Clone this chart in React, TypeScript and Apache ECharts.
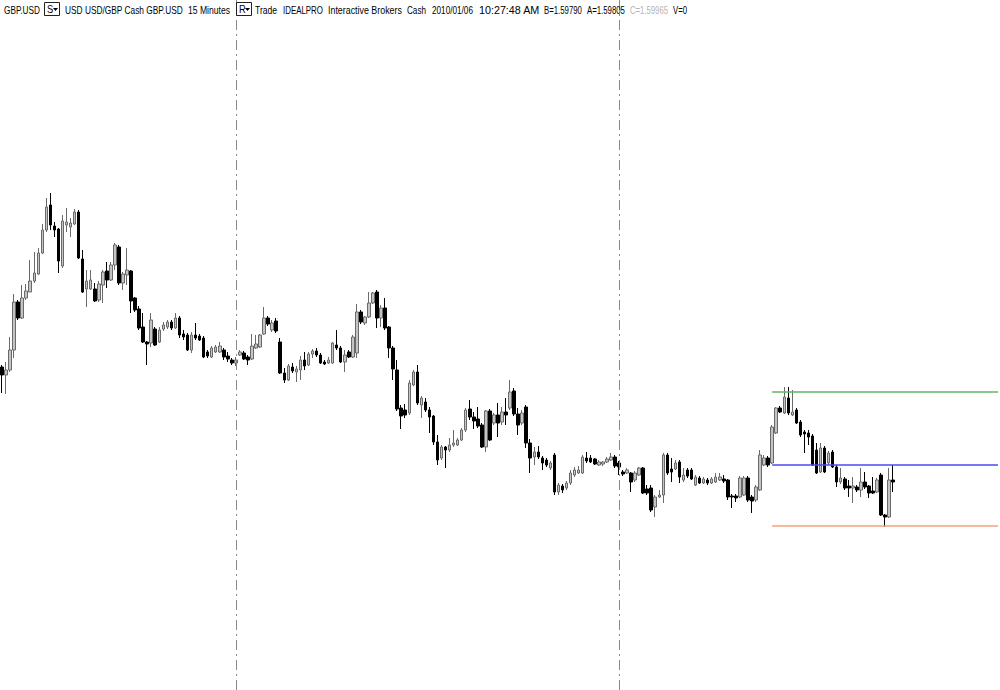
import React, { useEffect, useRef } from "react";
import * as echarts from "echarts";

// 15-minute GBP.USD bars (open, close, low, high)
const opens = [
  1.60365, 1.60325, 1.6035, 1.6045, 1.6069, 1.6061, 1.6071, 1.6074, 1.60795, 1.6083,
  1.60935, 1.6105, 1.61175, 1.6107, 1.61055, 1.6087, 1.61075, 1.61065, 1.6108, 1.6114,
  1.60905, 1.60755, 1.60755, 1.60755, 1.607, 1.60775, 1.60845, 1.608, 1.60875, 1.60965,
  1.60785, 1.60825, 1.60845, 1.6071, 1.60655, 1.60565, 1.6049, 1.60485, 1.60555, 1.6049,
  1.60555, 1.60565, 1.6059, 1.6056, 1.6061, 1.6053, 1.60525, 1.6045, 1.60525, 1.6052,
  1.6051, 1.6044, 1.60415, 1.6044, 1.6044, 1.6045, 1.6042, 1.604, 1.60385, 1.60425,
  1.60435, 1.60415, 1.60405, 1.6046, 1.60465, 1.6053, 1.6061, 1.6055, 1.60595, 1.6049,
  1.60335, 1.603, 1.60365, 1.6034, 1.6035, 1.604, 1.60375, 1.6043, 1.60445, 1.60425,
  1.6039, 1.60385, 1.60385, 1.60475, 1.6046, 1.6039, 1.6044, 1.60415, 1.60435, 1.6064,
  1.60585, 1.60615, 1.60685, 1.6074, 1.6061, 1.6066, 1.60565, 1.6046, 1.6035, 1.6016,
  1.6015, 1.60135, 1.60275, 1.6034, 1.60175, 1.6019, 1.6015, 1.6012, 1.5999, 1.5991,
  1.59965, 1.5995, 1.59975, 1.59975, 1.6, 1.6005, 1.60155, 1.60115, 1.60105, 1.60075,
  1.59965, 1.60145, 1.60085, 1.60125, 1.6009, 1.6014, 1.6016, 1.60245, 1.6013, 1.60085,
  1.60165, 1.59985, 1.59915, 1.5994, 1.5991, 1.599, 1.5986, 1.59925, 1.5974, 1.5977,
  1.5976, 1.59785, 1.59825, 1.59835, 1.59835, 1.5991, 1.5991, 1.59905, 1.59875, 1.5988,
  1.5989, 1.599, 1.59915, 1.59885, 1.5984, 1.59835, 1.59835, 1.598, 1.59825, 1.5986,
  1.59755, 1.5976, 1.59665, 1.59715, 1.59725, 1.59925, 1.59855, 1.59855, 1.5989, 1.598,
  1.5985, 1.5985, 1.59775, 1.5981, 1.59785, 1.598, 1.59785, 1.5979, 1.598, 1.59805,
  1.598, 1.5972, 1.5972, 1.59715, 1.59725, 1.5981, 1.59715, 1.597, 1.5975, 1.59875,
  1.5991, 1.59885, 1.60035, 1.6016, 1.60135, 1.6021, 1.60125, 1.6015, 1.6009, 1.6004,
  1.60035, 1.6002, 1.5995, 1.5984, 1.5996, 1.59885, 1.5994, 1.59865, 1.5979, 1.59805,
  1.5977, 1.5976, 1.59765, 1.5975, 1.5979, 1.5977, 1.59745, 1.5974, 1.59825, 1.59625,
  1.59615, 1.598,
];
const closes = [
  1.60325, 1.6035, 1.6045, 1.6069, 1.6061, 1.6071, 1.60745, 1.60795, 1.60835, 1.60935,
  1.6105, 1.61165, 1.61075, 1.6105, 1.60895, 1.61095, 1.6109, 1.61085, 1.6114, 1.6091,
  1.6074, 1.60795, 1.608, 1.60695, 1.6078, 1.6084, 1.608, 1.60875, 1.60975, 1.60785,
  1.6083, 1.6085, 1.60695, 1.6065, 1.6056, 1.6049, 1.6048, 1.606, 1.60475, 1.6055,
  1.60575, 1.6059, 1.6056, 1.6061, 1.60525, 1.60515, 1.6045, 1.60525, 1.6051, 1.605,
  1.60415, 1.6042, 1.6046, 1.60465, 1.6047, 1.60415, 1.60405, 1.60385, 1.604, 1.6044,
  1.60405, 1.604, 1.6047, 1.6048, 1.60525, 1.6061, 1.6058, 1.60585, 1.60545, 1.60335,
  1.603, 1.6037, 1.60345, 1.60355, 1.604, 1.6037, 1.6043, 1.60445, 1.60425, 1.60385,
  1.6038, 1.604, 1.60485, 1.6046, 1.6039, 1.60425, 1.60415, 1.60515, 1.6064, 1.6059,
  1.60615, 1.60685, 1.60735, 1.6061, 1.6066, 1.6056, 1.6046, 1.60355, 1.60155, 1.6012,
  1.60125, 1.60285, 1.6034, 1.60185, 1.6021, 1.6015, 1.60115, 1.5999, 1.599, 1.59965,
  1.5995, 1.59975, 1.59985, 1.6, 1.6005, 1.6015, 1.60115, 1.60095, 1.6007, 1.59965,
  1.60145, 1.6, 1.60125, 1.60085, 1.6014, 1.60125, 1.6024, 1.6013, 1.60075, 1.60135,
  1.59985, 1.5991, 1.5994, 1.59915, 1.59885, 1.59875, 1.59885, 1.5974, 1.59775, 1.5975,
  1.59785, 1.59835, 1.5985, 1.5985, 1.59915, 1.59895, 1.5989, 1.5988, 1.5989, 1.5989,
  1.59905, 1.59915, 1.5987, 1.59865, 1.5983, 1.5985, 1.5979, 1.59835, 1.5986, 1.59735,
  1.59735, 1.5965, 1.59715, 1.59725, 1.59925, 1.59835, 1.5984, 1.59885, 1.59815, 1.59825,
  1.5982, 1.59805, 1.59815, 1.59785, 1.59805, 1.59785, 1.59805, 1.59815, 1.59815, 1.59795,
  1.59715, 1.59715, 1.5971, 1.5981, 1.5981, 1.597, 1.59695, 1.59765, 1.59925, 1.5991,
  1.59875, 1.60065, 1.6016, 1.6014, 1.60215, 1.60135, 1.6014, 1.60085, 1.60025, 1.6003,
  1.60015, 1.59875, 1.59835, 1.5996, 1.5984, 1.59935, 1.59865, 1.5979, 1.5981, 1.5976,
  1.5976, 1.5977, 1.5975, 1.5979, 1.59765, 1.59735, 1.59735, 1.598, 1.59625, 1.59615,
  1.598, 1.5979,
];
const lows = [
  1.60235, 1.6023, 1.6034, 1.6041, 1.606, 1.60605, 1.607, 1.6074, 1.60785, 1.60825,
  1.6093, 1.6104, 1.6105, 1.61015, 1.60835, 1.6086, 1.6104, 1.61015, 1.61075, 1.60905,
  1.60735, 1.60665, 1.6075, 1.6069, 1.6069, 1.60685, 1.6076, 1.60795, 1.6085, 1.60775,
  1.6075, 1.60775, 1.60635, 1.6064, 1.6055, 1.60485, 1.60375, 1.60465, 1.6047, 1.60485,
  1.60545, 1.60555, 1.6055, 1.60555, 1.6051, 1.605, 1.60445, 1.60435, 1.605, 1.60495,
  1.6041, 1.6041, 1.6041, 1.60435, 1.60435, 1.604, 1.6039, 1.60375, 1.6037, 1.6042,
  1.604, 1.60375, 1.604, 1.60455, 1.6046, 1.60525, 1.6057, 1.6054, 1.60535, 1.6033,
  1.60285, 1.60295, 1.60335, 1.6029, 1.603, 1.6035, 1.6037, 1.6041, 1.60415, 1.6038,
  1.60375, 1.6038, 1.6038, 1.6045, 1.60385, 1.6034, 1.6041, 1.6041, 1.6041, 1.6058,
  1.60575, 1.6061, 1.6068, 1.6056, 1.60565, 1.6055, 1.6041, 1.603, 1.60145, 1.60055,
  1.6011, 1.60125, 1.6027, 1.60175, 1.6011, 1.6014, 1.60035, 1.59975, 1.59875, 1.599,
  1.5986, 1.5994, 1.59965, 1.5997, 1.59995, 1.6004, 1.601, 1.60055, 1.6006, 1.5996,
  1.5994, 1.59995, 1.60075, 1.60015, 1.60075, 1.60075, 1.6015, 1.6012, 1.60025, 1.60075,
  1.5996, 1.59835, 1.59875, 1.59905, 1.5985, 1.59865, 1.5985, 1.59725, 1.59725, 1.59735,
  1.5975, 1.59775, 1.59815, 1.5983, 1.5983, 1.59885, 1.59885, 1.59875, 1.5987, 1.5987,
  1.59885, 1.59895, 1.5986, 1.59825, 1.5982, 1.5983, 1.5974, 1.5979, 1.5982, 1.5973,
  1.59725, 1.5964, 1.59615, 1.5971, 1.59685, 1.59825, 1.5979, 1.5985, 1.59785, 1.5979,
  1.5981, 1.598, 1.5977, 1.5978, 1.5978, 1.59775, 1.5978, 1.59785, 1.59795, 1.59785,
  1.597, 1.5966, 1.5969, 1.5971, 1.5972, 1.5969, 1.59635, 1.5969, 1.59745, 1.5987,
  1.59865, 1.5988, 1.6003, 1.60135, 1.6013, 1.60125, 1.6012, 1.6008, 1.60015, 1.59935,
  1.59975, 1.5987, 1.5983, 1.59835, 1.59835, 1.59875, 1.5986, 1.59765, 1.5978, 1.5975,
  1.59715, 1.59685, 1.5974, 1.59715, 1.59755, 1.5971, 1.5973, 1.59735, 1.5962, 1.59565,
  1.5961, 1.5974,
];
const highs = [
  1.60375, 1.6039, 1.60515, 1.6073, 1.607, 1.60775, 1.6078, 1.609, 1.6094, 1.6096,
  1.6108, 1.6121, 1.61235, 1.6109, 1.6106, 1.61125, 1.6116, 1.6111, 1.61155, 1.6115,
  1.6095, 1.6085, 1.6085, 1.60785, 1.60795, 1.6085, 1.6089, 1.6089, 1.60985, 1.60975,
  1.6084, 1.6096, 1.6085, 1.60715, 1.6067, 1.60635, 1.60495, 1.60635, 1.60565, 1.60565,
  1.6059, 1.606, 1.606, 1.60635, 1.6062, 1.6055, 1.60535, 1.6054, 1.60585, 1.6053,
  1.6052, 1.6045, 1.6047, 1.60475, 1.6049, 1.6046, 1.6044, 1.6041, 1.60415, 1.6045,
  1.60445, 1.60425, 1.6053, 1.60525, 1.6053, 1.60665, 1.6062, 1.606, 1.6061, 1.6051,
  1.6036, 1.6038, 1.60385, 1.6037, 1.6042, 1.6044, 1.6044, 1.60455, 1.6046, 1.60435,
  1.604, 1.60415, 1.6049, 1.6055, 1.6047, 1.6045, 1.6045, 1.60525, 1.6068, 1.6065,
  1.6062, 1.6074, 1.6074, 1.6075, 1.60675, 1.6071, 1.6057, 1.6047, 1.604, 1.60175,
  1.6018, 1.603, 1.6035, 1.60375, 1.6022, 1.6021, 1.60165, 1.60125, 1.60025, 1.59975,
  1.5997, 1.6001, 1.6005, 1.6001, 1.6006, 1.6016, 1.602, 1.6014, 1.60165, 1.60085,
  1.6015, 1.60155, 1.60135, 1.60185, 1.60165, 1.6021, 1.603, 1.6026, 1.6016, 1.6015,
  1.60175, 1.60005, 1.59965, 1.5997, 1.5992, 1.5991, 1.59895, 1.59935, 1.59785, 1.5978,
  1.59795, 1.5985, 1.59865, 1.5987, 1.59925, 1.5994, 1.59925, 1.5991, 1.599, 1.59895,
  1.59915, 1.59935, 1.59925, 1.59895, 1.5985, 1.5986, 1.5984, 1.59845, 1.59865, 1.59865,
  1.59775, 1.59775, 1.59725, 1.5975, 1.59935, 1.59935, 1.5991, 1.599, 1.599, 1.5986,
  1.5986, 1.5986, 1.59825, 1.5982, 1.59815, 1.5981, 1.59815, 1.59835, 1.59835, 1.59825,
  1.59805, 1.5973, 1.5973, 1.5982, 1.5982, 1.5982, 1.59725, 1.59775, 1.5995, 1.59925,
  1.5992, 1.60075, 1.60165, 1.6017, 1.60265, 1.60265, 1.6025, 1.6016, 1.601, 1.6005,
  1.6005, 1.6003, 1.59985, 1.59985, 1.5997, 1.59945, 1.5995, 1.59875, 1.5986, 1.59815,
  1.598, 1.59815, 1.59775, 1.5986, 1.5984, 1.59775, 1.59815, 1.5981, 1.59835, 1.5963,
  1.5986, 1.59875,
];

// slots on the time axis (bars plus empty room on the right)
const SLOT_COUNT = 248;
const START_DAY = 4; // 2010/01/04
const START_MINUTES = 9 * 60 + 30;
const categories: string[] = [];
for (let i = 0; i < SLOT_COUNT; i++) {
  const m = START_MINUTES + i * 15;
  const day = START_DAY + Math.floor(m / 1440);
  const mm = m % 1440;
  const hh = String(Math.floor(mm / 60)).padStart(2, "0");
  const mi = String(mm % 60).padStart(2, "0");
  categories.push(`01/0${day} ${hh}:${mi}`);
}

// session separators (bar indices)
const sessionBreaks = [58, 153];

// horizontal levels drawn from a bar to the right edge
const levels = [
  { value: 1.6024, from: 191, to: 247, color: "#5fb45f" },
  { value: 1.59875, from: 191, to: 247, color: "#4b4bf0" },
  { value: 1.59572, from: 191, to: 247, color: "#f0a27e" },
];

const Y_MIN = 1.5875;
const Y_MAX = 1.622;

// header chunks: left edge and target width in pixels
const headerTexts = [
  { x: 4, w: 36, text: "GBP.USD" },
  { x: 65, w: 118, text: "USD USD/GBP Cash GBP.USD" },
  { x: 188, w: 42, text: "15 Minutes" },
  { x: 255, w: 22, text: "Trade" },
  { x: 283, w: 40, text: "IDEALPRO" },
  { x: 328, w: 74, text: "Interactive Brokers" },
  { x: 407, w: 19, text: "Cash" },
  { x: 432, w: 41, text: "2010/01/06" },
  { x: 479, w: 61, text: "10:27:48 AM" },
  { x: 544, w: 38, text: "B=1.59790" },
  { x: 587, w: 38, text: "A=1.59805" },
  { x: 630, w: 38, text: "C=1.59965", color: "#b4b4b4" },
  { x: 673, w: 14, text: "V=0" },
];
const headerBoxes = [
  { x: 44, letter: "S" },
  { x: 236, letter: "R" },
];

const FONT = '"Liberation Sans", Arial, sans-serif';
const FONT_SIZE = 11;

function measure(text: string): number {
  const c = document.createElement("canvas").getContext("2d");
  if (!c) return text.length * FONT_SIZE * 0.55;
  c.font = `${FONT_SIZE}px ${FONT}`;
  return c.measureText(text).width;
}

export default function App() {
  const ref = useRef<HTMLDivElement>(null);
  useEffect(() => {
    if (!ref.current) return;
    const chart = echarts.init(ref.current, null, { renderer: "svg" });
    const data = opens.map((o, i) => [o, closes[i], lows[i], highs[i]]);

    const markData: any[] = [];
    sessionBreaks.forEach((b) => {
      markData.push({
        xAxis: categories[b],
        lineStyle: { color: "#8a8a8a", width: 1, type: [10, 4, 2, 4] },
      });
    });
    levels.forEach((lv) => {
      markData.push([
        { coord: [categories[lv.from], lv.value], lineStyle: { color: lv.color, width: 1.6, type: "solid" } },
        { coord: [categories[lv.to], lv.value] },
      ]);
    });

    const graphics: any[] = [];
    headerTexts.forEach((t) => {
      const natural = measure(t.text);
      graphics.push({
        type: "text",
        x: t.x,
        y: 10,
        scaleX: natural > 0 ? t.w / natural : 0.8,
        z: 100,
        style: {
          text: t.text,
          fill: t.color || "#000",
          fontSize: FONT_SIZE,
          fontFamily: FONT,
          verticalAlign: "middle",
          align: "left",
        },
      });
    });
    headerBoxes.forEach((b) => {
      graphics.push({
        type: "rect",
        z: 100,
        shape: { x: b.x + 0.5, y: 2.5, width: 15, height: 13 },
        style: { fill: "#fff", stroke: "#222", lineWidth: 1 },
      });
      graphics.push({
        type: "text",
        z: 101,
        x: b.x + 3,
        y: 9.5,
        scaleX: 0.85,
        style: { text: b.letter, fill: "#000", fontSize: FONT_SIZE, fontFamily: FONT, verticalAlign: "middle" },
      });
      graphics.push({
        type: "polygon",
        z: 101,
        shape: { points: [[b.x + 9, 8], [b.x + 14, 8], [b.x + 11.5, 11]] },
        style: { fill: "#000" },
      });
    });

    chart.setOption({
      animation: false,
      backgroundColor: "#ffffff",
      grid: { left: 0, right: 0, top: 0, bottom: 0 },
      xAxis: {
        type: "category",
        data: categories,
        boundaryGap: true,
        show: false,
      },
      yAxis: {
        type: "value",
        min: Y_MIN,
        max: Y_MAX,
        show: false,
        splitLine: { show: false },
      },
      series: [
        {
          type: "candlestick",
          data,
          barWidth: 3,
          itemStyle: {
            color: "#c4c4c4",
            color0: "#000000",
            borderColor: "#6a6a6a",
            borderColor0: "#000000",
            borderWidth: 1,
          },
          markLine: {
            silent: true,
            symbol: ["none", "none"],
            label: { show: false },
            animation: false,
            data: markData,
          },
        },
      ],
      graphic: graphics,
    });
    return () => chart.dispose();
  }, []);
  return (
    <div
      ref={ref}
      style={{ position: "absolute", left: 0, top: 0, width: 1000, height: 690, background: "#fff" }}
    />
  );
}
